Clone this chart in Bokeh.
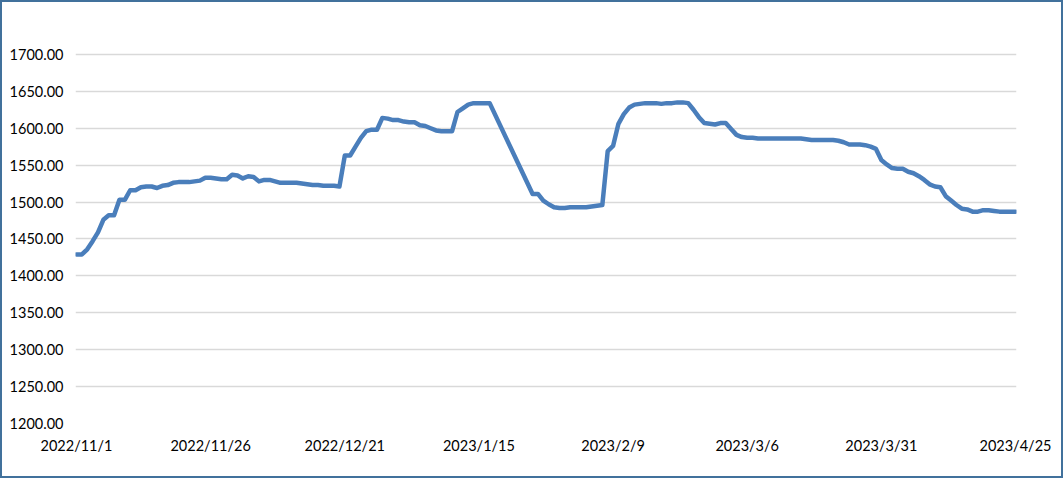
import re
import pandas as pd
from bokeh.plotting import figure
from bokeh.models import FixedTicker, NumeralTickFormatter, Range1d, ColumnDataSource
from bokeh.embed import file_html
from bokeh.resources import INLINE

# ---- data ----
dates = [
    "2022-11-01", "2022-11-02", "2022-11-03", "2022-11-04", "2022-11-05", "2022-11-06", "2022-11-07",
    "2022-11-08", "2022-11-09", "2022-11-10", "2022-11-11", "2022-11-12", "2022-11-13", "2022-11-14",
    "2022-11-15", "2022-11-16", "2022-11-17", "2022-11-18", "2022-11-19", "2022-11-20", "2022-11-21",
    "2022-11-22", "2022-11-23", "2022-11-24", "2022-11-25", "2022-11-26", "2022-11-27", "2022-11-28",
    "2022-11-29", "2022-11-30", "2022-12-01", "2022-12-02", "2022-12-03", "2022-12-04", "2022-12-05",
    "2022-12-06", "2022-12-07", "2022-12-08", "2022-12-09", "2022-12-10", "2022-12-11", "2022-12-12",
    "2022-12-13", "2022-12-14", "2022-12-15", "2022-12-16", "2022-12-17", "2022-12-18", "2022-12-19",
    "2022-12-20", "2022-12-21", "2022-12-22", "2022-12-23", "2022-12-24", "2022-12-25", "2022-12-26",
    "2022-12-27", "2022-12-28", "2022-12-29", "2022-12-30", "2022-12-31", "2023-01-01", "2023-01-02",
    "2023-01-03", "2023-01-04", "2023-01-05", "2023-01-06", "2023-01-07", "2023-01-08", "2023-01-09",
    "2023-01-10", "2023-01-11", "2023-01-12", "2023-01-13", "2023-01-14", "2023-01-15", "2023-01-16",
    "2023-01-17",
    "2023-01-25", "2023-01-26", "2023-01-27", "2023-01-28", "2023-01-29", "2023-01-30", "2023-01-31",
    "2023-02-01", "2023-02-02", "2023-02-03", "2023-02-04", "2023-02-05", "2023-02-06", "2023-02-07",
    "2023-02-08", "2023-02-09", "2023-02-10", "2023-02-11", "2023-02-12", "2023-02-13", "2023-02-14",
    "2023-02-15", "2023-02-16", "2023-02-17", "2023-02-18", "2023-02-19", "2023-02-20", "2023-02-21",
    "2023-02-22", "2023-02-23", "2023-02-24", "2023-02-25", "2023-02-26", "2023-02-27", "2023-02-28",
    "2023-03-01", "2023-03-02", "2023-03-03", "2023-03-04", "2023-03-05", "2023-03-06", "2023-03-07",
    "2023-03-08", "2023-03-09", "2023-03-10", "2023-03-11", "2023-03-12", "2023-03-13", "2023-03-14",
    "2023-03-15", "2023-03-16", "2023-03-17", "2023-03-18", "2023-03-19", "2023-03-20", "2023-03-21",
    "2023-03-22", "2023-03-23", "2023-03-24", "2023-03-25", "2023-03-26", "2023-03-27", "2023-03-28",
    "2023-03-29", "2023-03-30", "2023-03-31", "2023-04-01", "2023-04-02", "2023-04-03", "2023-04-04",
    "2023-04-05", "2023-04-06", "2023-04-07", "2023-04-08", "2023-04-09", "2023-04-10", "2023-04-11",
    "2023-04-12", "2023-04-13", "2023-04-14", "2023-04-15", "2023-04-16", "2023-04-17", "2023-04-18",
    "2023-04-19", "2023-04-20", "2023-04-21", "2023-04-22", "2023-04-23", "2023-04-24", "2023-04-25",
]
prices = [
    1429, 1429, 1436, 1447, 1459, 1476, 1482,
    1482, 1503, 1503, 1516, 1516, 1520, 1521,
    1521, 1519, 1522, 1523, 1526, 1527, 1527,
    1527, 1528, 1529, 1533, 1533, 1532, 1531,
    1531, 1537, 1536, 1532, 1535, 1534, 1528,
    1530, 1530, 1528, 1526, 1526, 1526, 1526,
    1525, 1524, 1523, 1523, 1522, 1522, 1522,
    1521, 1563, 1563, 1575, 1587, 1596, 1598,
    1598, 1614, 1613, 1611, 1611, 1609, 1608,
    1608, 1604, 1603, 1600, 1597, 1596, 1596,
    1596, 1622, 1627, 1632, 1634, 1634, 1634,
    1634,
    1511, 1511, 1502, 1497, 1493, 1492, 1492,
    1493, 1493, 1493, 1493, 1494, 1495, 1496,
    1569, 1576, 1606, 1619, 1628, 1632, 1633,
    1634, 1634, 1634, 1633, 1634, 1634, 1635,
    1635, 1634, 1625, 1615, 1607, 1606, 1605,
    1607, 1607, 1599, 1591, 1588, 1587, 1587,
    1586, 1586, 1586, 1586, 1586, 1586, 1586,
    1586, 1586, 1585, 1584, 1584, 1584, 1584,
    1584, 1583, 1581, 1578, 1578, 1578, 1577,
    1575, 1572, 1557, 1551, 1546, 1545, 1545,
    1541, 1539, 1535, 1530, 1524, 1521, 1520,
    1508, 1502, 1496, 1491, 1490, 1487, 1487,
    1489, 1489, 1488, 1487, 1487, 1487, 1487,
]
x_tick_dates = ["2022-11-01", "2022-11-26", "2022-12-21", "2023-01-15",
                "2023-02-09", "2023-03-06", "2023-03-31", "2023-04-25"]
x_tick_labels = ["2022/11/1", "2022/11/26", "2022/12/21", "2023/1/15",
                 "2023/2/9", "2023/3/6", "2023/3/31", "2023/4/25"]
y_ticks = [1200, 1250, 1300, 1350, 1400, 1450, 1500, 1550, 1600, 1650, 1700]


def ms(s):
    return pd.Timestamp(s).value / 1e6


DAY = 86400000.0
src = ColumnDataSource(dict(x=pd.to_datetime(dates), y=prices))

B = 2  # chart-area border width
W, H = 1063, 478
p = figure(width=W, height=H, x_axis_type="datetime",
           output_backend="svg", toolbar_location=None,
           x_range=Range1d(ms(dates[0]) - 0.19 * DAY, ms(dates[-1]) + 0.19 * DAY),
           y_range=Range1d(1200, 1750),
           min_border_left=73, min_border_right=49,
           min_border_top=15, min_border_bottom=57)
p.styles = {"border": f"{B}px solid #41719C"}
p.outline_line_color = None
p.background_fill_color = "white"
p.border_fill_color = "white"

p.line("x", "y", source=src, line_width=4.5, line_color="#4A7EBB",
       line_join="round", line_cap="round")

p.xgrid.visible = False
p.ygrid.grid_line_color = "#D9D9D9"
p.ygrid.grid_line_width = 1.5

xt = [ms(d) for d in x_tick_dates]
p.xaxis.ticker = FixedTicker(ticks=xt)
p.xaxis.major_label_overrides = {v: l for v, l in zip(xt, x_tick_labels)}
p.yaxis.ticker = FixedTicker(ticks=y_ticks)
p.yaxis.formatter = NumeralTickFormatter(format="0.00")

for ax in (p.xaxis[0], p.yaxis[0]):
    ax.axis_line_color = None
    ax.major_tick_line_color = None
    ax.minor_tick_line_color = None
    ax.major_tick_out = 0
    ax.major_tick_in = 0
    ax.major_label_text_font = "Lato"
    ax.major_label_text_font_size = "14.5px"
    ax.major_label_text_color = "#000000"
p.xaxis.major_label_standoff = 13
p.yaxis.major_label_standoff = 12

html = file_html(p, INLINE, title="chart")
html = re.sub(r"<body[^>]*>", '<body style="margin:0">', html, count=1)
open("out.html", "w").write(html)
